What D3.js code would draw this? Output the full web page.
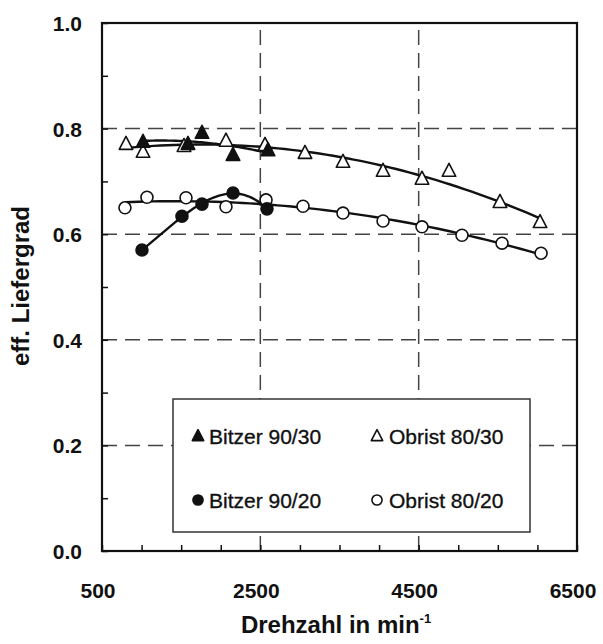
<!DOCTYPE html>
<html>
<head>
<meta charset="utf-8">
<script src="https://cdn.jsdelivr.net/npm/d3@7"></script>
<style>
  html, body { margin: 0; padding: 0; background: #fff; }
  svg { display: block; }
  text { font-family: "Liberation Sans", Arial, Helvetica, sans-serif; fill: #111; }
</style>
</head>
<body>
<svg id="chart" width="603" height="644"></svg>
<script>
// Volumetric efficiency ("eff. Liefergrad") vs. compressor speed
const bitzer9030Rpm = [1018, 1586, 1763, 2155, 2597];
const bitzer9030Val = [0.775, 0.771, 0.792, 0.750, 0.759];

const obrist8030Rpm = [803, 1018, 1536, 2066, 2559, 3064, 3544, 4050, 4542, 4883, 5527, 6033];
const obrist8030Val = [0.771, 0.756, 0.767, 0.777, 0.769, 0.754, 0.737, 0.720, 0.705, 0.720, 0.661, 0.623];

const bitzer9020Rpm = [1005, 1510, 1763, 2155, 2584];
const bitzer9020Val = [0.570, 0.634, 0.657, 0.678, 0.648];

const obrist8020Rpm = [790, 1068, 1561, 2066, 2572, 3039, 3544, 4050, 4542, 5047, 5553, 6046];
const obrist8020Val = [0.650, 0.670, 0.669, 0.652, 0.665, 0.653, 0.640, 0.625, 0.614, 0.598, 0.583, 0.564];

const xTickValues = [500, 2500, 4500, 6500];
const yTickValues = [0.0, 0.2, 0.4, 0.6, 0.8, 1.0];
const legendLabels = ["Bitzer 90/30", "Obrist 80/30", "Bitzer 90/20", "Obrist 80/20"];

const svg = d3.select("#chart");
const x = d3.scaleLinear().domain([500, 6500]).range([102, 577]);
const y = d3.scaleLinear().domain([0, 1]).range([551, 23]);

const series = [
  { name: legendLabels[0], rpm: bitzer9030Rpm, val: bitzer9030Val, shape: "tri", filled: true, degree: 2 },
  { name: legendLabels[1], rpm: obrist8030Rpm, val: obrist8030Val, shape: "tri", filled: false, degree: 2 },
  { name: legendLabels[2], rpm: bitzer9020Rpm, val: bitzer9020Val, shape: "circ", filled: true, degree: 3 },
  { name: legendLabels[3], rpm: obrist8020Rpm, val: obrist8020Val, shape: "circ", filled: false, degree: 2 }
];

// least-squares polynomial trend line
function polyFit(xs, ys, deg) {
  const m = deg + 1;
  const A = Array.from({ length: m }, () => new Array(m + 1).fill(0));
  xs.forEach((xv, i) => {
    const u = xv / 1000;
    for (let r = 0; r < m; r++) {
      for (let c = 0; c < m; c++) A[r][c] += Math.pow(u, r + c);
      A[r][m] += Math.pow(u, r) * ys[i];
    }
  });
  for (let i = 0; i < m; i++) {
    for (let j = i + 1; j < m; j++) {
      const f = A[j][i] / A[i][i];
      for (let k = i; k <= m; k++) A[j][k] -= f * A[i][k];
    }
  }
  const coef = new Array(m).fill(0);
  for (let i = m - 1; i >= 0; i--) {
    let v = A[i][m];
    for (let k = i + 1; k < m; k++) v -= A[i][k] * coef[k];
    coef[i] = v / A[i][i];
  }
  return r => { const u = r / 1000; return coef.reduce((s, c, k) => s + c * Math.pow(u, k), 0); };
}

// dashed grid lines
const gridG = svg.append("g").attr("stroke", "#444").attr("stroke-width", 1.5)
  .attr("stroke-dasharray", "15,8");
[0.2, 0.4, 0.6, 0.8].forEach(v => {
  gridG.append("line").attr("x1", x(500)).attr("x2", x(6500)).attr("y1", y(v)).attr("y2", y(v));
});
[2500, 4500].forEach(v => {
  gridG.append("line").attr("x1", x(v)).attr("x2", x(v)).attr("y1", y(0)).attr("y2", y(1));
});

// axes with inward ticks
const xAxis = d3.axisBottom(x).tickValues(d3.range(500, 6501, 500)).tickSize(-6).tickFormat("");
const yAxis = d3.axisLeft(y).tickValues(d3.range(0, 1.001, 0.1)).tickSize(-6).tickFormat("");
svg.append("g").attr("transform", `translate(0,${y(0)})`).call(xAxis)
  .call(g => g.select(".domain").remove())
  .call(g => g.selectAll("line").attr("stroke", "#111").attr("stroke-width", 1.5));
svg.append("g").attr("transform", `translate(${x(500)},0)`).call(yAxis)
  .call(g => g.select(".domain").remove())
  .call(g => g.selectAll("line").attr("stroke", "#111").attr("stroke-width", 1.5));

// tick labels
svg.append("g").selectAll("text").data(yTickValues).join("text")
  .attr("x", 82).attr("y", d => y(d) + 8)
  .attr("text-anchor", "end").attr("font-size", 21).attr("font-weight", "bold")
  .text(d => d.toFixed(1));
svg.append("g").selectAll("text").data(xTickValues).join("text")
  .attr("x", d => x(d) - 4).attr("y", 598)
  .attr("text-anchor", "middle").attr("font-size", 21).attr("font-weight", "bold")
  .text(d => d);

// axis titles
svg.append("text").attr("transform", "translate(29,286) rotate(-90)")
  .attr("text-anchor", "middle").attr("font-size", 24).attr("font-weight", "bold")
  .text("eff. Liefergrad");
const xt = svg.append("text").attr("x", 336).attr("y", 633)
  .attr("text-anchor", "middle").attr("font-size", 24).attr("font-weight", "bold");
xt.append("tspan").text("Drehzahl in min");
xt.append("tspan").attr("dy", -10).attr("font-size", 13).text("-1");

// trend lines
const lineG = svg.append("g").attr("fill", "none").attr("stroke", "#111").attr("stroke-width", 2.4);
series.forEach(s => {
  const f = polyFit(s.rpm, s.val, s.degree);
  const lo = d3.min(s.rpm), hi = d3.max(s.rpm);
  const pts = d3.range(0, 61).map(i => lo + (hi - lo) * i / 60);
  lineG.append("path")
    .attr("d", d3.line().x(r => x(r)).y(r => y(f(r)))(pts));
});

// markers
function drawMarker(g, shape, filled, cx, cy, size) {
  if (shape === "tri") {
    const h = size, w = size * 0.52;
    g.append("path")
      .attr("d", `M${cx},${cy - h * 0.58} L${cx + w},${cy + h * 0.42} L${cx - w},${cy + h * 0.42} Z`)
      .attr("fill", filled ? "#111" : "#fff").attr("stroke", "#111").attr("stroke-width", 1.6)
      .attr("stroke-linejoin", "round");
  } else {
    g.append("circle").attr("cx", cx).attr("cy", cy).attr("r", size * 0.46)
      .attr("fill", filled ? "#111" : "#fff").attr("stroke", "#111").attr("stroke-width", 1.6);
  }
}
const markG = svg.append("g");
// open markers first, filled ones on top
[series[1], series[3], series[0], series[2]].forEach(s => {
  s.rpm.forEach((r, i) => drawMarker(markG, s.shape, s.filled, x(r), y(s.val[i]), 13));
});

// legend
const leg = svg.append("g");
leg.append("rect").attr("x", 173).attr("y", 399).attr("width", 357).attr("height", 133)
  .attr("fill", "#fff").attr("stroke", "#333").attr("stroke-width", 1.5);
const legPos = [
  { sx: 198, tx: 209, cy: 436 },
  { sx: 377, tx: 389, cy: 436 },
  { sx: 198, tx: 209, cy: 500 },
  { sx: 377, tx: 389, cy: 500 }
];
series.forEach((s, i) => {
  const p = legPos[i];
  drawMarker(leg, s.shape, s.filled, p.sx, p.cy, 11);
  leg.append("text").attr("x", p.tx).attr("y", p.cy + 7.5).attr("font-size", 21)
    .attr("stroke", "#111").attr("stroke-width", 0.35)
    .text(s.name);
});

// plot frame
svg.append("rect").attr("x", x(500)).attr("y", y(1)).attr("width", x(6500) - x(500))
  .attr("height", y(0) - y(1)).attr("fill", "none").attr("stroke", "#111").attr("stroke-width", 2.2);
</script>
</body>
</html>
